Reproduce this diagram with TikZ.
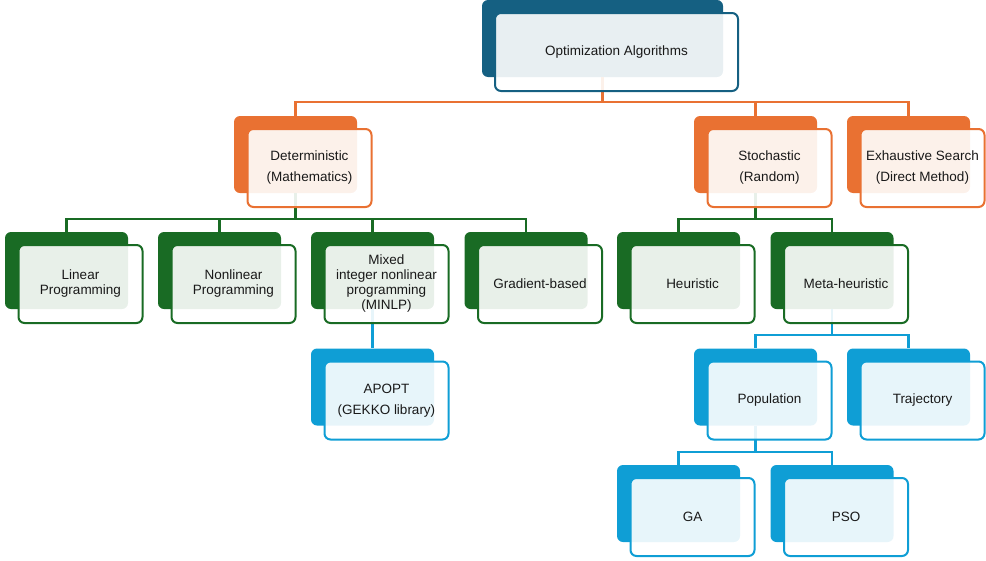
\documentclass[tikz,border=0pt]{standalone}
\usepackage{fontspec}
\setmainfont{Liberation Sans}
\begin{document}
\begin{tikzpicture}[x=1pt,y=-1pt,
  back/.style={draw=none,fill=#1,rounded corners=6pt,minimum width=123pt,minimum height=77pt,inner sep=0pt},
  front/.style={draw=#1,line width=2pt,fill=white,fill opacity=0.9,text opacity=1,rounded corners=6pt,
    minimum width=124pt,minimum height=78pt,inner sep=0pt,align=center,text=black!90,
    font=\fontsize{13.5}{15}\selectfont},
  link/.style={draw=#1,line width=2.2pt}]
\definecolor{cNavy}{HTML}{156082}
\definecolor{cOrange}{HTML}{E97132}
\definecolor{cGreen}{HTML}{196B24}
\definecolor{cBlue}{HTML}{0F9ED5}
\useasboundingbox (0,0) rectangle (986,560);

% back tiles
\node[back=cNavy,minimum width=241pt] (top) at (602.5,38.5) {};
\node[back=cOrange] (det) at (295.5,154.5) {};
\node[back=cOrange] (sto) at (755.5,154.5) {};
\node[back=cOrange] (exh) at (908.5,154.5) {};
\node[back=cGreen] (lin) at (66.5,270.5) {};
\node[back=cGreen] (non) at (219.5,270.5) {};
\node[back=cGreen] (mix) at (372.5,270.5) {};
\node[back=cGreen] (grad) at (526,270.5) {};
\node[back=cGreen] (heu) at (678.5,270.5) {};
\node[back=cGreen] (meta) at (832,270.5) {};
\node[back=cBlue] (apo) at (372.5,387) {};
\node[back=cBlue] (pop) at (755.5,387) {};
\node[back=cBlue] (traj) at (908.5,387) {};
\node[back=cBlue] (ga) at (678.5,503.5) {};
\node[back=cBlue] (pso) at (832,503.5) {};

% connectors
\coordinate (j1) at (602.5,102);
\draw[link=cOrange] (top.south) -- (j1) -| (det.north);
\draw[link=cOrange] (j1) -| (sto.north);
\draw[link=cOrange] (j1) -| (exh.north);
\coordinate (j2) at (295.5,219);
\draw[link=cGreen] (det.south) -- (j2) -| (lin.north);
\draw[link=cGreen] (j2) -| (non.north);
\draw[link=cGreen] (j2) -| (mix.north);
\draw[link=cGreen] (j2) -| (grad.north);
\coordinate (j3) at (755.5,219);
\draw[link=cGreen] (sto.south) -- (j3) -| (heu.north);
\draw[link=cGreen] (j3) -| (meta.north);
\draw[link=cBlue] (mix.south) -- (apo.north);
\coordinate (j4) at (832,335);
\draw[link=cBlue] (meta.south) -- (j4) -| (pop.north);
\draw[link=cBlue] (j4) -| (traj.north);
\coordinate (j5) at (755.5,452);
\draw[link=cBlue] (pop.south) -- (j5) -| (ga.north);
\draw[link=cBlue] (j5) -| (pso.north);

% front tiles with labels
\node[front=cNavy,minimum width=243pt] (topF) at ([shift={(14,13.5)}]top.center) {Optimization Algorithms};
\node[front=cOrange] (detF) at ([shift={(14,13.5)}]det.center) {Deterministic\\[6pt](Mathematics)};
\node[front=cOrange] (stoF) at ([shift={(14,13.5)}]sto.center) {Stochastic\\[6pt](Random)};
\node[front=cOrange] (exhF) at ([shift={(14,13.5)}]exh.center) {Exhaustive Search\\[6pt](Direct Method)};
\node[front=cGreen] (linF) at ([shift={(14,13.5)}]lin.center) {Linear\\Programming};
\node[front=cGreen] (nonF) at ([shift={(14,13.5)}]non.center) {Nonlinear\\Programming};
\node[front=cGreen] (mixF) at ([shift={(14,13.5)}]mix.center) {Mixed\\integer nonlinear\\programming\\(MINLP)};
\node[front=cGreen] (gradF) at ([shift={(14,13.5)}]grad.center) {Gradient-based};
\node[front=cGreen] (heuF) at ([shift={(14,13.5)}]heu.center) {Heuristic};
\node[front=cGreen] (metaF) at ([shift={(14,13.5)}]meta.center) {Meta-heuristic};
\node[front=cBlue] (apoF) at ([shift={(14,13.5)}]apo.center) {APOPT\\[6pt](GEKKO library)};
\node[front=cBlue] (popF) at ([shift={(14,13.5)}]pop.center) {Population};
\node[front=cBlue] (trajF) at ([shift={(14,13.5)}]traj.center) {Trajectory};
\node[front=cBlue] (gaF) at ([shift={(14,13.5)}]ga.center) {GA};
\node[front=cBlue] (psoF) at ([shift={(14,13.5)}]pso.center) {PSO};
\end{tikzpicture}
\end{document}
